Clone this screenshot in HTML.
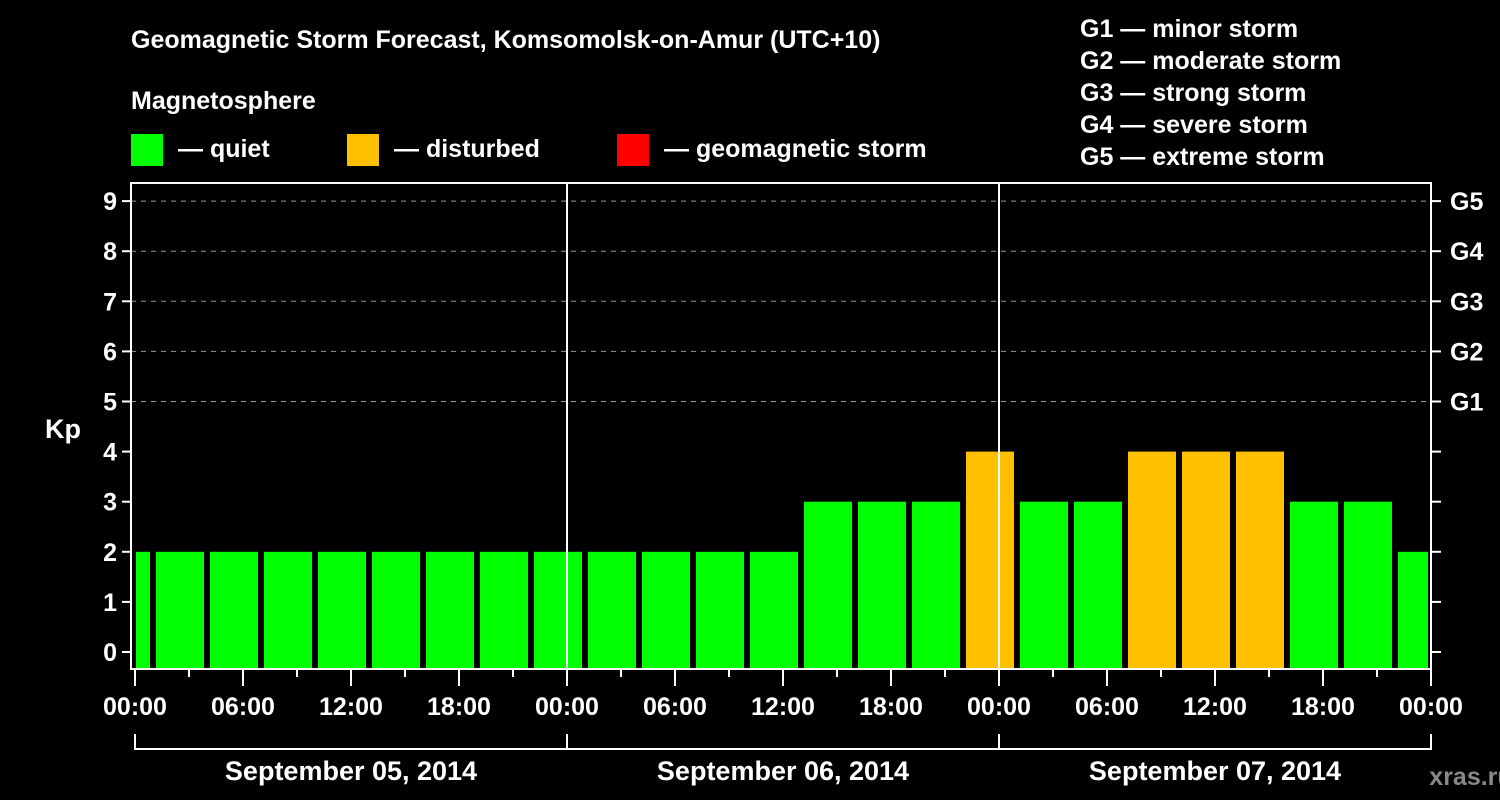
<!DOCTYPE html>
<html><head><meta charset="utf-8"><style>
body{margin:0;background:#000;width:1500px;height:800px;overflow:hidden}
svg{display:block;font-family:"Liberation Sans",Arial,sans-serif;font-weight:bold}
</style></head><body>
<svg id="c" width="1500" height="800">
<rect width="1500" height="800" fill="#000"/>
<text x="131" y="48" fill="#fff" font-size="25">Geomagnetic Storm Forecast, Komsomolsk-on-Amur (UTC+10)</text>
<text x="131" y="109" fill="#fff" font-size="25">Magnetosphere</text>
<g><rect x="131" y="134" width="32" height="32" fill="#00ff00"/><text x="178" y="157" fill="#fff" font-size="25">— quiet</text></g>
<g><rect x="347" y="134" width="32" height="32" fill="#ffc000"/><text x="394" y="157" fill="#fff" font-size="25">— disturbed</text></g>
<g><rect x="617" y="134" width="32" height="32" fill="#ff0000"/><text x="664" y="157" fill="#fff" font-size="25">— geomagnetic storm</text></g>
<g fill="#fff" font-size="25">
<text x="1080" y="37">G1 — minor storm</text><text x="1080" y="69">G2 — moderate storm</text><text x="1080" y="101">G3 — strong storm</text><text x="1080" y="133">G4 — severe storm</text><text x="1080" y="165">G5 — extreme storm</text></g>
<text x="63" y="438" fill="#fff" font-size="27" text-anchor="middle">Kp</text>
<text x="1471" y="785" fill="#888" font-size="25" text-anchor="middle">xras.ru</text>
<g id="plot"></g>
</svg>
<script>
const kpValues=[2,2,2,2,2,2,2,2,2, 2,2,2,2,3,3,3,4, 3,3,4,4,4,3,3,2];
const yTicks=[0,1,2,3,4,5,6,7,8,9];
const gLabels=["G1","G2","G3","G4","G5"];
const xTickLabels=["00:00","06:00","12:00","18:00"];
const dateLabels=["September 05, 2014","September 06, 2014","September 07, 2014"];
const NS="http://www.w3.org/2000/svg";
const g=document.getElementById('plot');
const L=131,R=1431,T=183,B=669;
const x0=135,pxPerHour=18;
const xh=h=>x0+h*pxPerHour;
const yk=v=>652-v*50.1;
function mk(tag,a,txt){const e=document.createElementNS(NS,tag);for(const k in a)e.setAttribute(k,a[k]);if(txt!=null)e.textContent=txt;g.appendChild(e);return e;}
// grid
yTicks.forEach(v=>{
 if(v>=5){const l=mk('line',{x1:L,x2:R,y1:yk(v),y2:yk(v),stroke:'#999','stroke-width':1,'stroke-dasharray':'5,5'});
 
 }
 const t=mk('line',{x1:122,x2:L,y1:yk(v),y2:yk(v),stroke:'#fff','stroke-width':2});
 
 
 const t2=mk('line',{x1:R,x2:1441,y1:yk(v),y2:yk(v),stroke:'#fff','stroke-width':2});
 
 
 const lb=mk('text',{x:117,y:yk(v)+9,fill:'#fff','font-size':25,'text-anchor':'end'},String(v));
 
 
});
gLabels.forEach((s,i)=>{const t=mk('text',{x:1450,y:yk(5+i)+9,fill:'#fff','font-size':25},s);
 
 });
// bars: bins start at local -2h (22:00 prev day), 3h each
kpValues.forEach((v,i)=>{
 let s=-2+3*i,e=s+3;s=Math.max(s,0);e=Math.min(e,72);
 const x1=xh(s)+(s===0?1:3),x2=xh(e)-(e===72?3:3);
 const col=v>=5?'#ff0000':(v>=4?'#ffc000':'#00ff00');
 const r=mk('rect',{x:x1,y:yk(v),width:x2-x1,height:B-1-yk(v),fill:col});
 
 
});
// day separators
[1,2].forEach(d=>{const l=mk('line',{x1:xh(24*d),x2:xh(24*d),y1:T,y2:B,stroke:'#fff','stroke-width':2});
 
 });
// frame
const f=mk('path',{d:`M${L} ${B} V${T} H${R} V${B} Z`,fill:'none',stroke:'#fff','stroke-width':2});


// x ticks
for(let h=0;h<=72;h+=3){const maj=h%6===0;
 const t=mk('line',{x1:xh(h),x2:xh(h),y1:B,y2:maj?686:677,stroke:'#fff','stroke-width':2});
 
 
 if(maj){const lb=mk('text',{x:xh(h),y:715,fill:'#fff','font-size':25,'text-anchor':'middle'},xTickLabels[(h/6)%4]);
 
 }}
// date bracket
const br=mk('path',{d:`M${xh(0)} 734 V749 H${xh(72)} V734 M${xh(24)} 734 V749 M${xh(48)} 734 V749`,fill:'none',stroke:'#fff','stroke-width':2});


dateLabels.forEach((s,i)=>{const t=mk('text',{x:xh(24*i+12),y:780,fill:'#fff','font-size':27,'text-anchor':'middle'},s);
 
 });
</script>
</body></html>
